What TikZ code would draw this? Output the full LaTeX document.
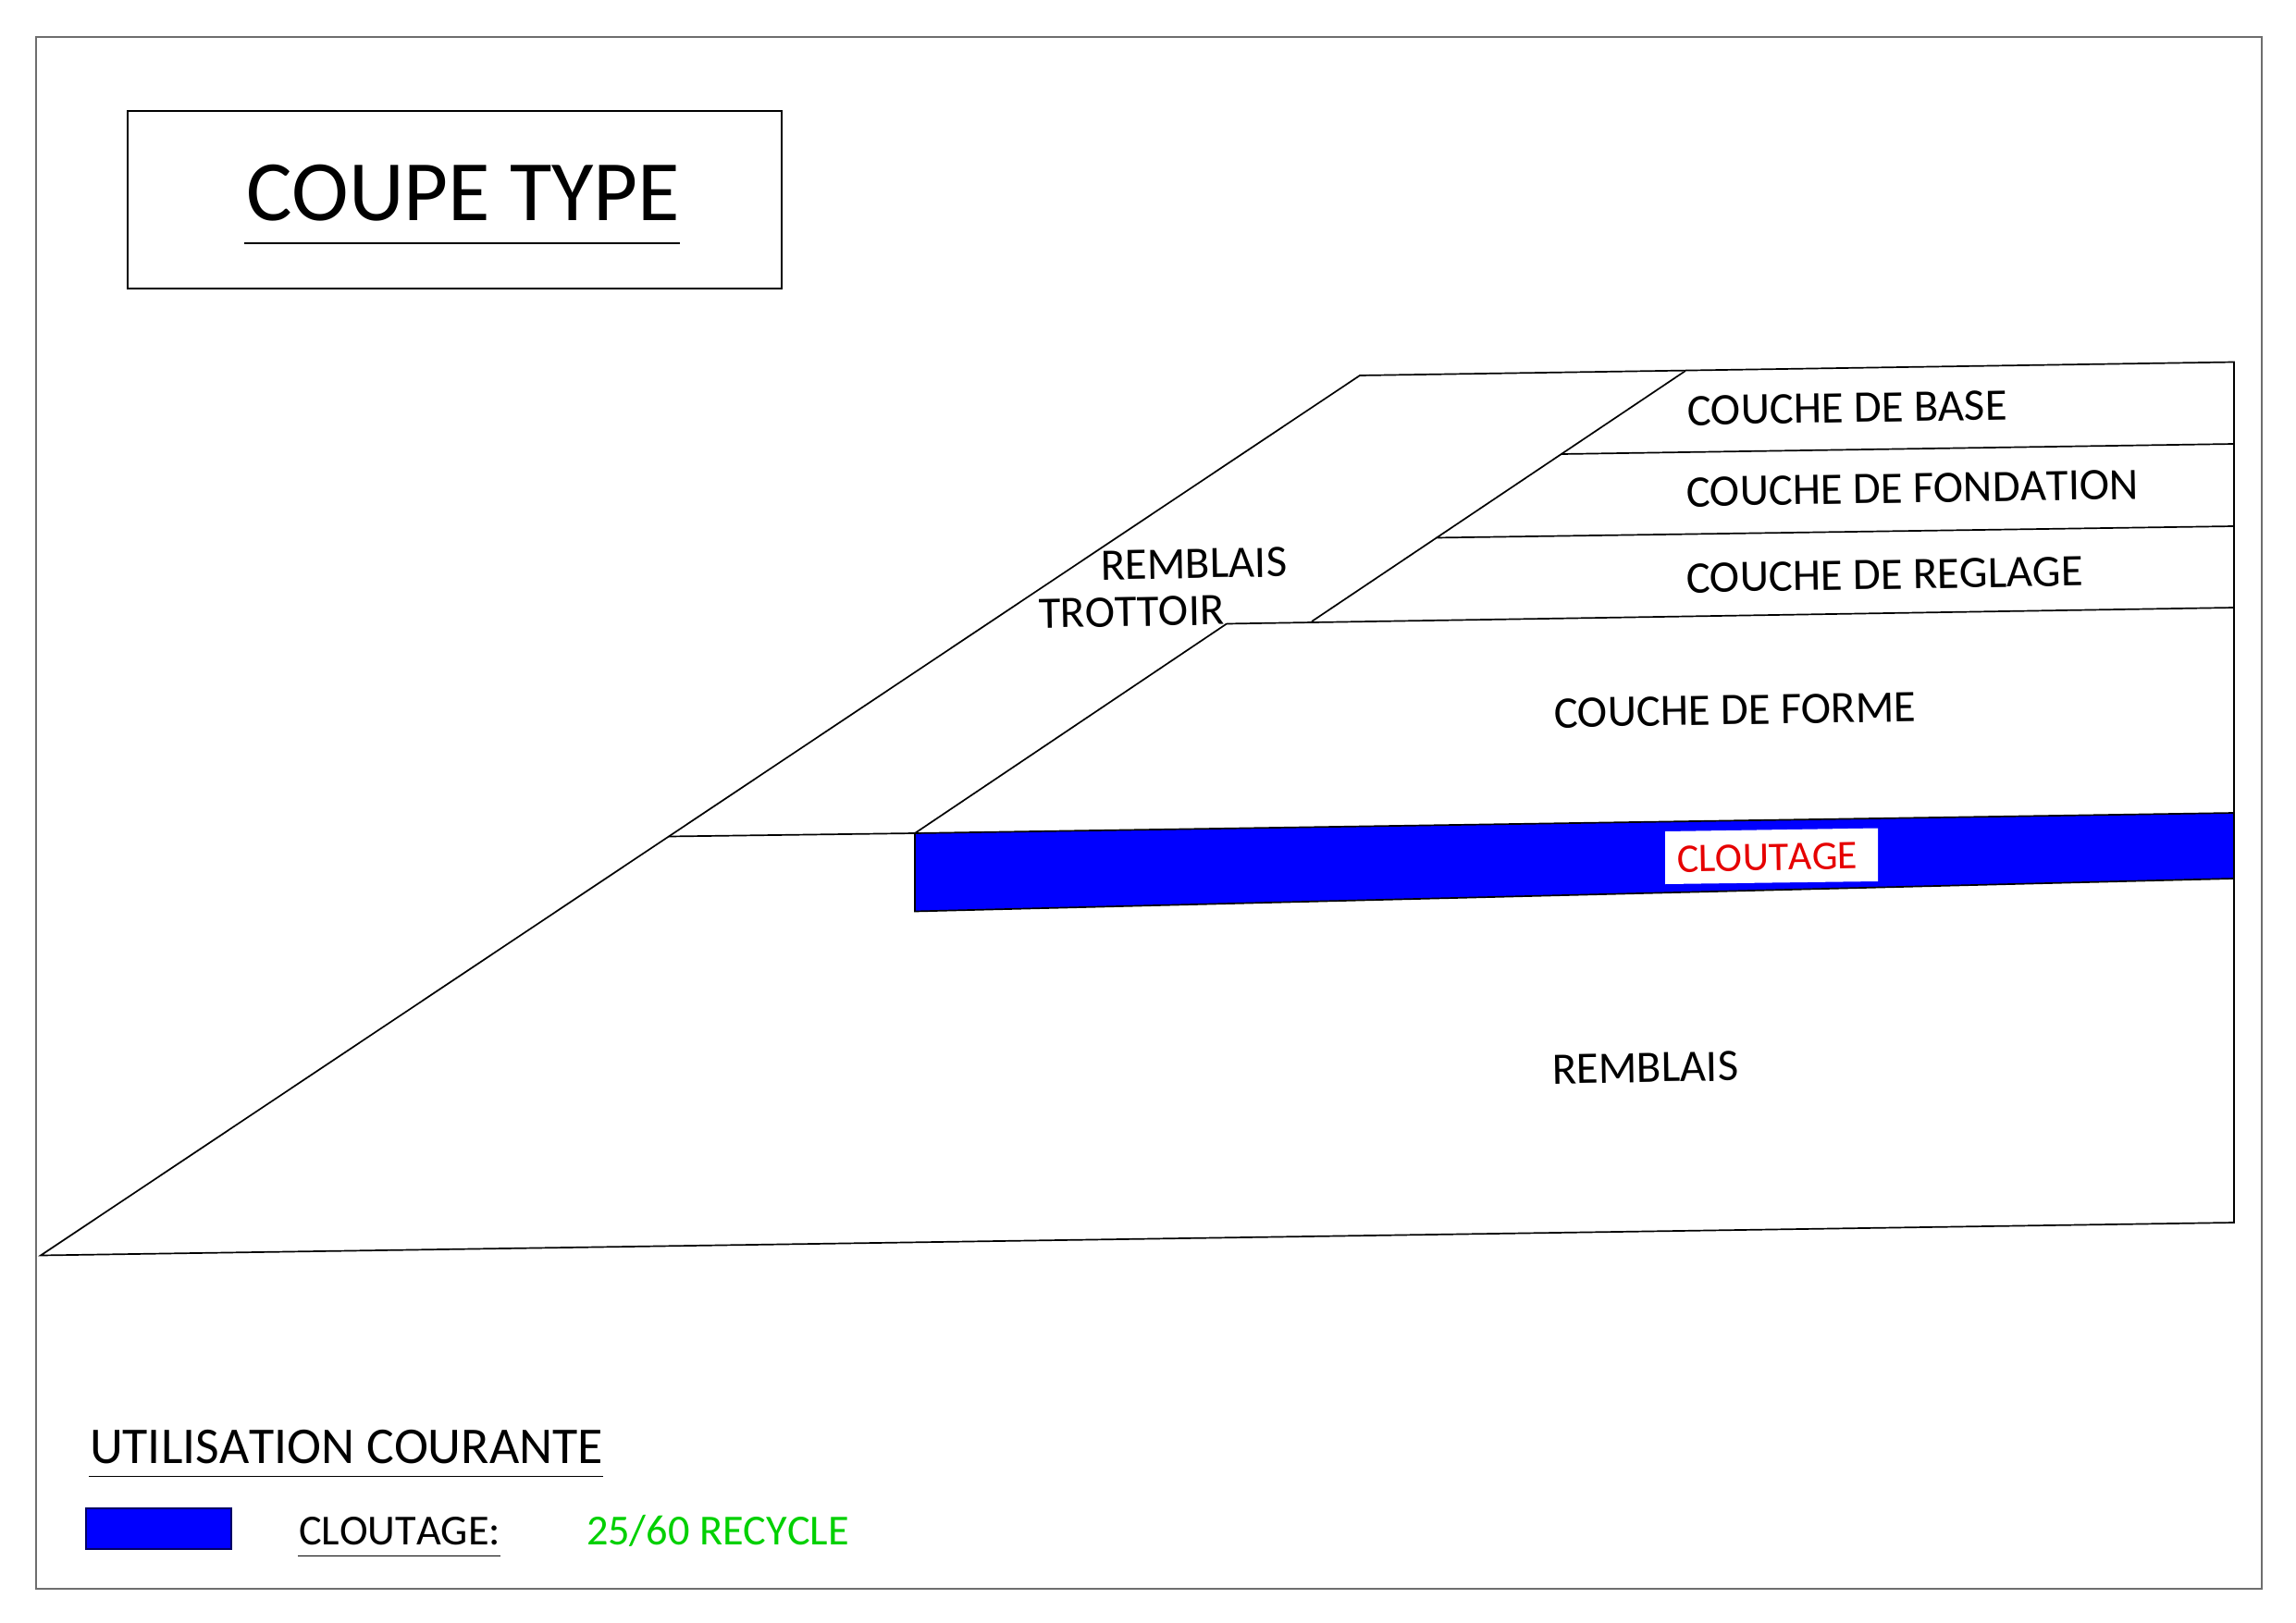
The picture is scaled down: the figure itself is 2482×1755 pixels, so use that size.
\documentclass[tikz,border=0pt]{standalone}
\usepackage{fontspec}
\setmainfont{Carlito}[Kerning=Off]
\definecolor{frameGray}{RGB}{110,110,110}
\definecolor{layerBlue}{RGB}{0,0,255}
\definecolor{recGreen}{RGB}{0,208,0}
\definecolor{clouRed}{RGB}{230,0,0}
\newcommand{\fsz}[1]{\fontsize{#1}{#1}\selectfont}
\tikzset{
  lineStyle/.style={draw=black,line width=1.7pt,line join=miter},
  layerLabel/.style={anchor=base west,inner sep=0pt,outer sep=0pt,rotate=1,font=\fsz{48.7}},
  flatLabel/.style={anchor=base west,inner sep=0pt,outer sep=0pt},
}
\begin{document}
\begin{tikzpicture}[x=1pt,y=-1pt]
\useasboundingbox (0,0) rectangle (2482,1755);
% frame
\draw[draw=frameGray,line width=1.7pt] (39,40) rectangle (2445,1718);
% title
\draw[lineStyle] (138,120) rectangle (845,312);
\node[flatLabel,font=\fsz{93}] (title) at (266,239) {COUPE TYPE};
\draw[lineStyle,line width=1.4pt] (264,263) -- (735,263);
% key coordinates
\coordinate (A) at (1470,406);
\coordinate (B) at (1822,401);
\coordinate (TR) at (2415,391.5);
\coordinate (BR) at (2415,1322);
\coordinate (BL) at (44,1357.5);
\coordinate (F1) at (1688,491);
\coordinate (F1r) at (2415,480);
\coordinate (F2) at (1552,581.5);
\coordinate (F2r) at (2415,569);
\coordinate (F3) at (1418,672);
\coordinate (F3r) at (2415,657);
\coordinate (K) at (1326,674.5);
\coordinate (C) at (989,901);
\coordinate (D) at (723,904.5);
\coordinate (E) at (989,985.5);
\coordinate (Gt) at (2415,879);
\coordinate (Gb) at (2415,950);
% blue band
\fill[layerBlue] (C) -- (Gt) -- (Gb) -- (E) -- cycle;
\draw[lineStyle] (C) -- (Gt) (Gb) -- (E) -- (C);
% outline
\draw[lineStyle] (BL) -- (A) -- (TR) -- (BR) -- cycle;
% layers
\draw[lineStyle] (B) -- (F3) (F1) -- (F1r) (F2) -- (F2r) (K) -- (F3r) (K) -- (C) -- (D);
% cloutage patch
\fill[white] (1800,899) -- (2030,895.5) -- (2030,953) -- (1800,956) -- cycle;
% labels
\node[layerLabel] (base) at (1824,460) {COUCHE DE BASE};
\node[layerLabel] (fond) at (1823,548) {COUCHE DE FONDATION};
\node[layerLabel] (regl) at (1823,641) {COUCHE DE REGLAGE};
\node[layerLabel] (forme) at (1680,787) {COUCHE DE FORME};
\node[layerLabel] (remt) at (1190,627) {REMBLAIS};
\node[layerLabel] (trot) at (1123,679) {TROTTOIR};
\node[layerLabel,font=\fsz{44},text=clouRed] (clou) at (1813,943) {CLOUTAGE};
\node[layerLabel] (rem) at (1678,1172) {REMBLAIS};
% legend
\node[flatLabel,font=\fsz{55.8}] (util) at (97,1582) {UTILISATION COURANTE};
\draw[lineStyle,line width=1.4pt] (96,1596.5) -- (652,1596.5);
\draw[draw=black!60!blue,fill=layerBlue,line width=1.4pt] (93,1631) rectangle (250,1675);
\node[flatLabel,font=\fsz{46.3}] (lclou) at (323,1670) {CLOUTAGE:};
\draw[lineStyle,line width=1.4pt] (322,1682.5) -- (541,1682.5);
\node[flatLabel,font=\fsz{46.3},text=recGreen] (lrec) at (634,1670) {25/60 RECYCLE};
\end{tikzpicture}
\end{document}
